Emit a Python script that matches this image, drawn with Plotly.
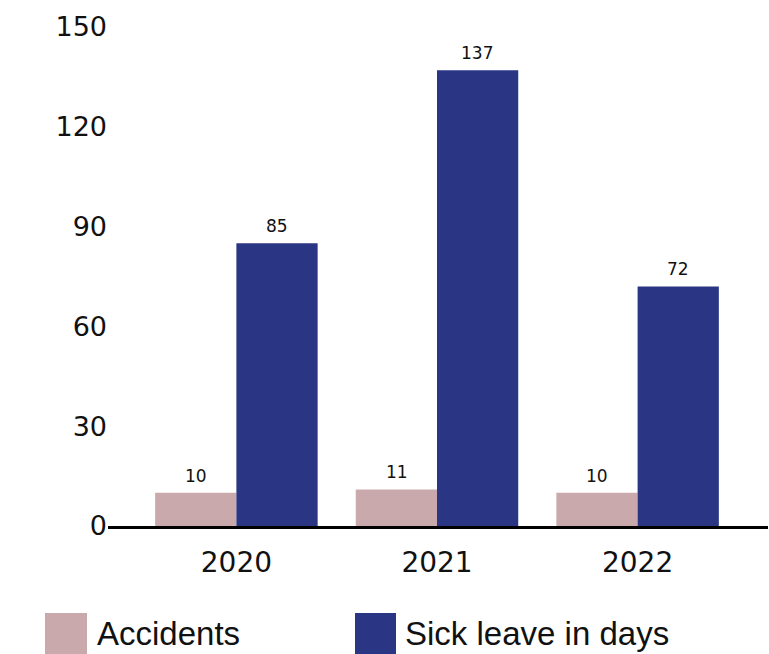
import plotly.graph_objects as go

# Data
years = ["2020", "2021", "2022"]
accidents = [10, 11, 10]
sick_leave_days = [85, 137, 72]
series_names = ["Accidents", "Sick leave in days"]
y_ticks = [0, 30, 60, 90, 120, 150]

PINK = "#C9A9AB"
NAVY = "#2A3683"
TEXT = "#111111"
NUM_FONT = "DejaVu Sans"

W, H = 769, 654
ML, MR, MT, MB = 108, 1, 27, 128
PW = W - ML - MR
PH = H - MT - MB


def px_x(px):
    return (px - ML) / PW


def px_y(py):
    return (H - MB - py) / PH


fig = go.Figure()
fig.add_trace(go.Bar(x=years, y=accidents, name=series_names[0],
                     marker=dict(color=PINK, line=dict(width=0))))
fig.add_trace(go.Bar(x=years, y=sick_leave_days, name=series_names[1],
                     marker=dict(color=NAVY, line=dict(width=0))))

# Value labels above each bar
annotations = []
for i, yr in enumerate(years):
    for val, off in ((accidents[i], -0.2), (sick_leave_days[i], 0.2)):
        annotations.append(dict(
            x=i + off, y=val, xref="x", yref="y", text=str(val),
            showarrow=False, yanchor="bottom", yshift=5,
            font=dict(family=NUM_FONT, size=17, color=TEXT)))

# Custom legend: large swatches with labels
legend_items = [(series_names[0], PINK, 45, 87, 95),
                (series_names[1], NAVY, 355, 396, 403)]
shapes = []
for name, color, x0, x1, tx in legend_items:
    shapes.append(dict(type="rect", xref="paper", yref="paper",
                       x0=px_x(x0), x1=px_x(x1), y0=px_y(613), y1=px_y(660),
                       fillcolor=color, line=dict(width=0), layer="above"))
    annotations.append(dict(
        x=px_x(tx), y=px_y(633), xref="paper", yref="paper", text=name,
        showarrow=False, xanchor="left", yanchor="middle",
        font=dict(family="Liberation Sans", size=33, color=TEXT)))

fig.update_layout(
    width=W, height=H,
    margin=dict(l=ML, r=MR, t=MT, b=MB, pad=0),
    paper_bgcolor="white", plot_bgcolor="white",
    barmode="group", bargap=0.19, bargroupgap=0,
    showlegend=False,
    shapes=shapes, annotations=annotations,
    xaxis=dict(
        type="category", range=[-0.64, 2.65],
        showline=True, linecolor="#000000", linewidth=2.5,
        showgrid=False, zeroline=False,
        ticks="outside", ticklen=10, tickcolor="rgba(0,0,0,0)",
        tickfont=dict(family=NUM_FONT, size=28, color=TEXT),
    ),
    yaxis=dict(
        range=[0, 150], tickvals=y_ticks,
        showline=False, showgrid=False, zeroline=False,
        ticks="", tickfont=dict(family=NUM_FONT, size=27, color=TEXT),
    ),
)

fig.write_html("out.html")
